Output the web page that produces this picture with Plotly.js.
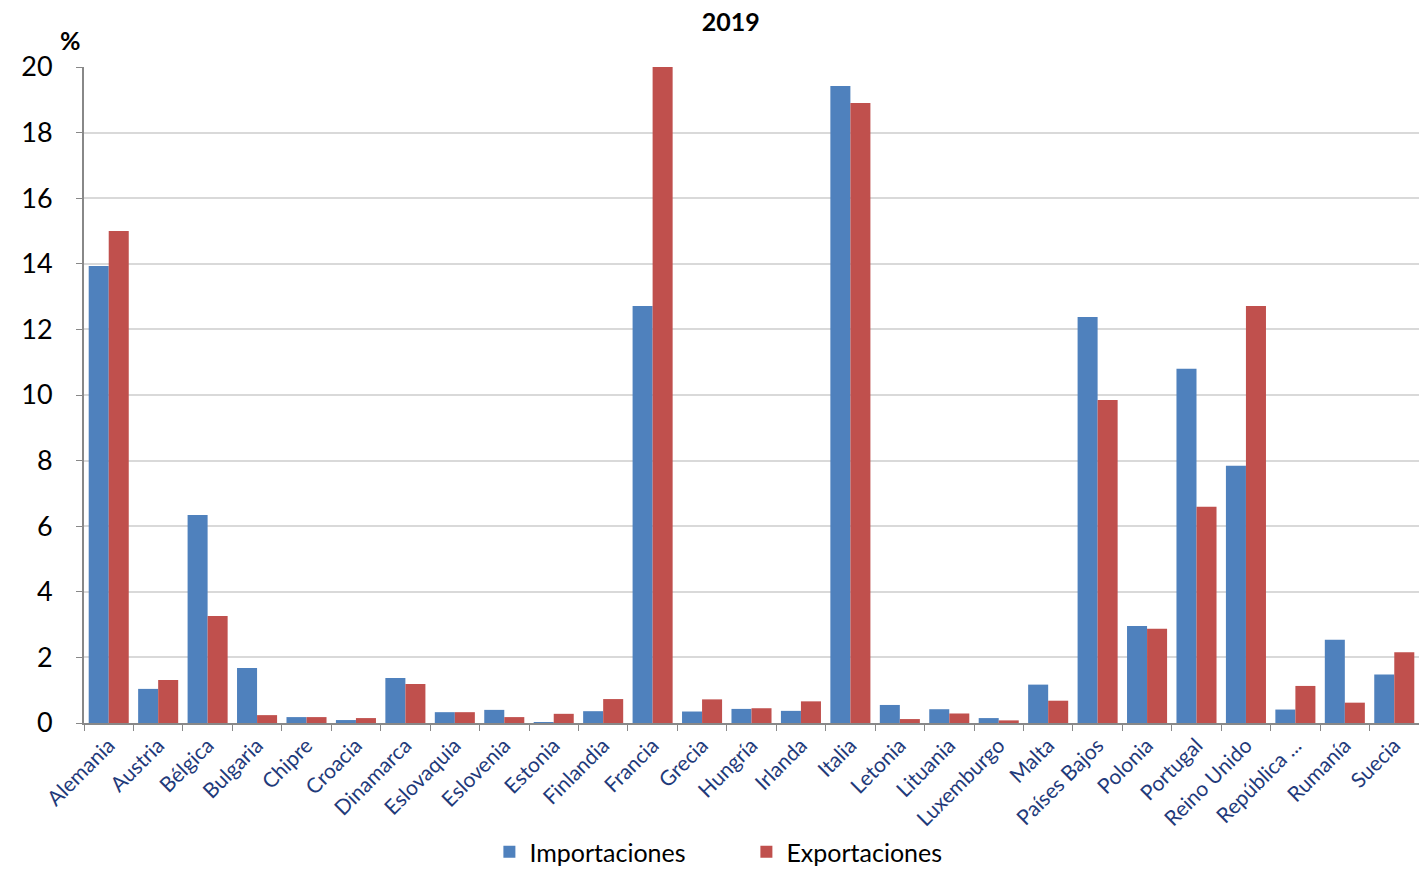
<!DOCTYPE html>
<html>
<head>
<meta charset="utf-8">
<script src="https://cdn.plot.ly/plotly-3.0.1.min.js"></script>
<style>html,body{margin:0;padding:0;background:#fff;}#chart{width:1419px;height:873px;}</style>
</head>
<body>
<div id="chart"></div>
<script>
const paises = ["Alemania","Austria","Bélgica","Bulgaria","Chipre","Croacia","Dinamarca","Eslovaquia","Eslovenia","Estonia","Finlandia","Francia","Grecia","Hungría","Irlanda","Italia","Letonia","Lituania","Luxemburgo","Malta","Países Bajos","Polonia","Portugal","Reino Unido","República ...","Rumanía","Suecia"];
const importaciones = [13.93,1.04,6.34,1.68,0.18,0.09,1.37,0.33,0.40,0.03,0.36,12.71,0.35,0.43,0.37,19.42,0.55,0.42,0.15,1.17,12.38,2.96,10.80,7.84,0.41,2.54,1.48];
const exportaciones = [15.00,1.31,3.26,0.24,0.18,0.15,1.19,0.33,0.18,0.28,0.73,20.00,0.72,0.45,0.66,18.90,0.12,0.29,0.08,0.68,9.85,2.87,6.59,12.71,1.13,0.62,2.16];
const yTicks = [0,2,4,6,8,10,12,14,16,18,20];

const FONT = "Lato, 'Open Sans', sans-serif";
const traces = [
  {type:"bar", name:"Importaciones", x:paises, y:importaciones, marker:{color:"#4F81BD"}},
  {type:"bar", name:"Exportaciones", x:paises, y:exportaciones, marker:{color:"#C0504D"}}
];
const layout = {
  width:1419, height:873,
  margin:{l:84, r:0, t:67, b:150},
  paper_bgcolor:"#fff", plot_bgcolor:"#fff",
  font:{family:FONT, color:"#000"},
  barmode:"group", bargap:0.19, bargroupgap:0,
  title:{text:"<b>2019</b>", x:0.515, xanchor:"center", y:0.975, yanchor:"middle", font:{size:25, family:FONT, color:"#000"}},
  xaxis:{type:"category", range:[-0.5,26.5], tickangle:-45, tickson:"boundaries", ticks:"outside", ticklen:6, tickcolor:"#888",
         showline:true, linecolor:"#888", linewidth:2, showgrid:false, automargin:false,
         tickfont:{size:21, family:FONT, color:"#1F3A7A"}},
  yaxis:{range:[0,20], tickvals:yTicks, ticks:"outside", ticklen:6, tickcolor:"#888",
         showline:true, linecolor:"#888", linewidth:2, gridcolor:"#D9D9D9", gridwidth:2, zeroline:false, automargin:false,
         tickfont:{size:27, family:FONT, color:"#000"}, ticklabelstandoff:18},
  legend:{orientation:"h", x:0.526, xanchor:"center", xref:"container", y:0.024, yref:"container", yanchor:"middle", font:{size:25, family:FONT, color:"#000"},
          itemwidth:30, entrywidth:212, entrywidthmode:"pixels", traceorder:"normal"},
  annotations:[{text:"<b>%</b>", xref:"paper", yref:"paper", x:-0.01, y:1.015, xanchor:"center", yanchor:"bottom", showarrow:false, font:{size:25, family:FONT, color:"#000"}}]
};
Plotly.newPlot("chart", traces, layout, {displayModeBar:false});
</script>
</body>
</html>
